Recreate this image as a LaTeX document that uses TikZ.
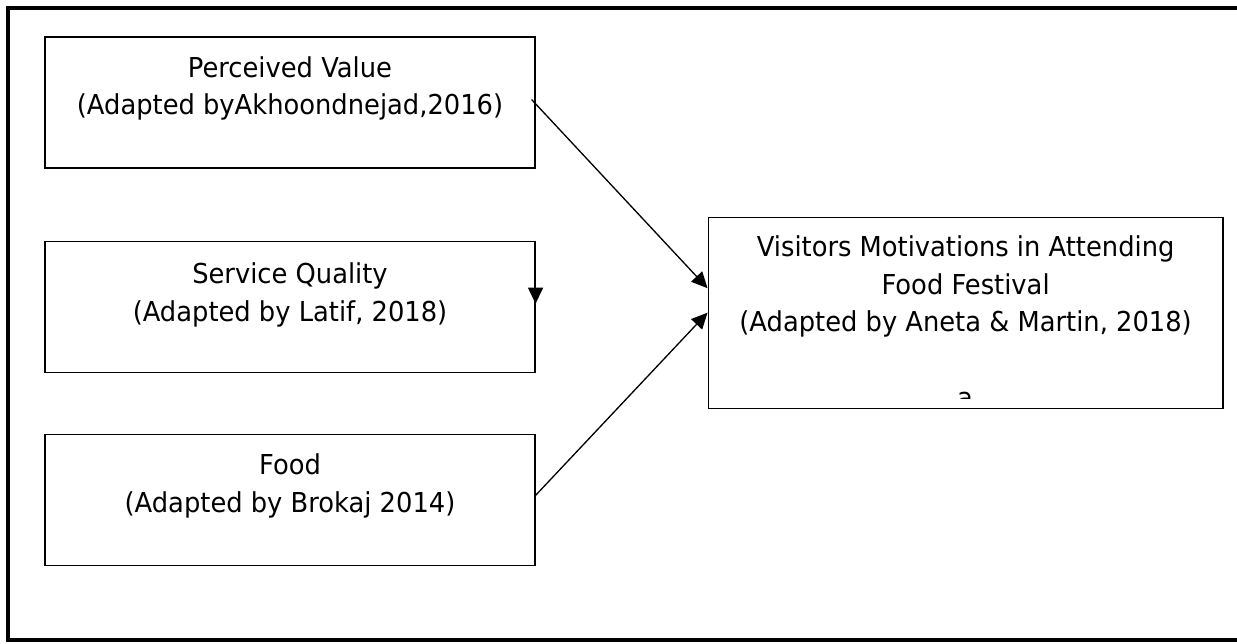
\documentclass[tikz,border=0pt]{standalone}
\usepackage{fontspec}
\setmainfont{DejaVu Sans}[FakeStretch=0.94]
\usetikzlibrary{positioning,arrows.meta}
\tikzset{
  box/.style={draw, rectangle, line width=0.7pt, minimum width=9.8cm, minimum height=2.62cm, inner sep=0pt},
  txt/.style={align=center, inner sep=0pt, font=\fontsize{15.6}{21.3}\selectfont},
  link/.style={-{Triangle[length=0.32cm,width=0.3cm]}, line width=0.75pt},
}

\begin{document}
\begin{tikzpicture}[x=0.02cm, y=-0.02cm]
\useasboundingbox (0,0) rectangle (1237,643);
\draw[line width=2.3pt] (8,8) rectangle (1250,640);

\node[box] (pv) at (290,102.5) {};
\node[box, below=1.44cm of pv] (sq) {};
\node[box, below=1.22cm of sq] (food) {};
\node[box, minimum width=10.3cm, minimum height=3.82cm, right=3.44cm of sq, yshift=-0.12cm] (vm) {};

\node[txt, below=0.4cm of pv.north] (pvtext) {Perceived Value\\(Adapted byAkhoondnejad,2016)};
\node[txt, below=0.44cm of sq.north] (sqtext) {Service Quality\\(Adapted by Latif, 2018)};
\node[txt, below=0.4cm of food.north] (foodtext) {Food\\(Adapted by Brokaj 2014)};
\node[txt, below=0.38cm of vm.north] (vmtext) {Visitors Motivations in Attending\\Food Festival\\(Adapted by Aneta \& Martin, 2018)};

% clipped letter at the foot of the right box
\begin{scope}
\clip (950,391) rectangle (980,398);
\node[txt, anchor=base] (tail) at (965,407) {a};
\end{scope}

\draw[link] ([xshift=-0.08cm, yshift=0.06cm] pv.east) -- ([yshift=0.49cm] vm.west);
\draw[link] ([yshift=0.09cm] food.east) -- (vm.west);
\draw[link] ([yshift=0.4cm] sq.east) -- ([yshift=0.06cm] sq.east);
\end{tikzpicture}
\end{document}
